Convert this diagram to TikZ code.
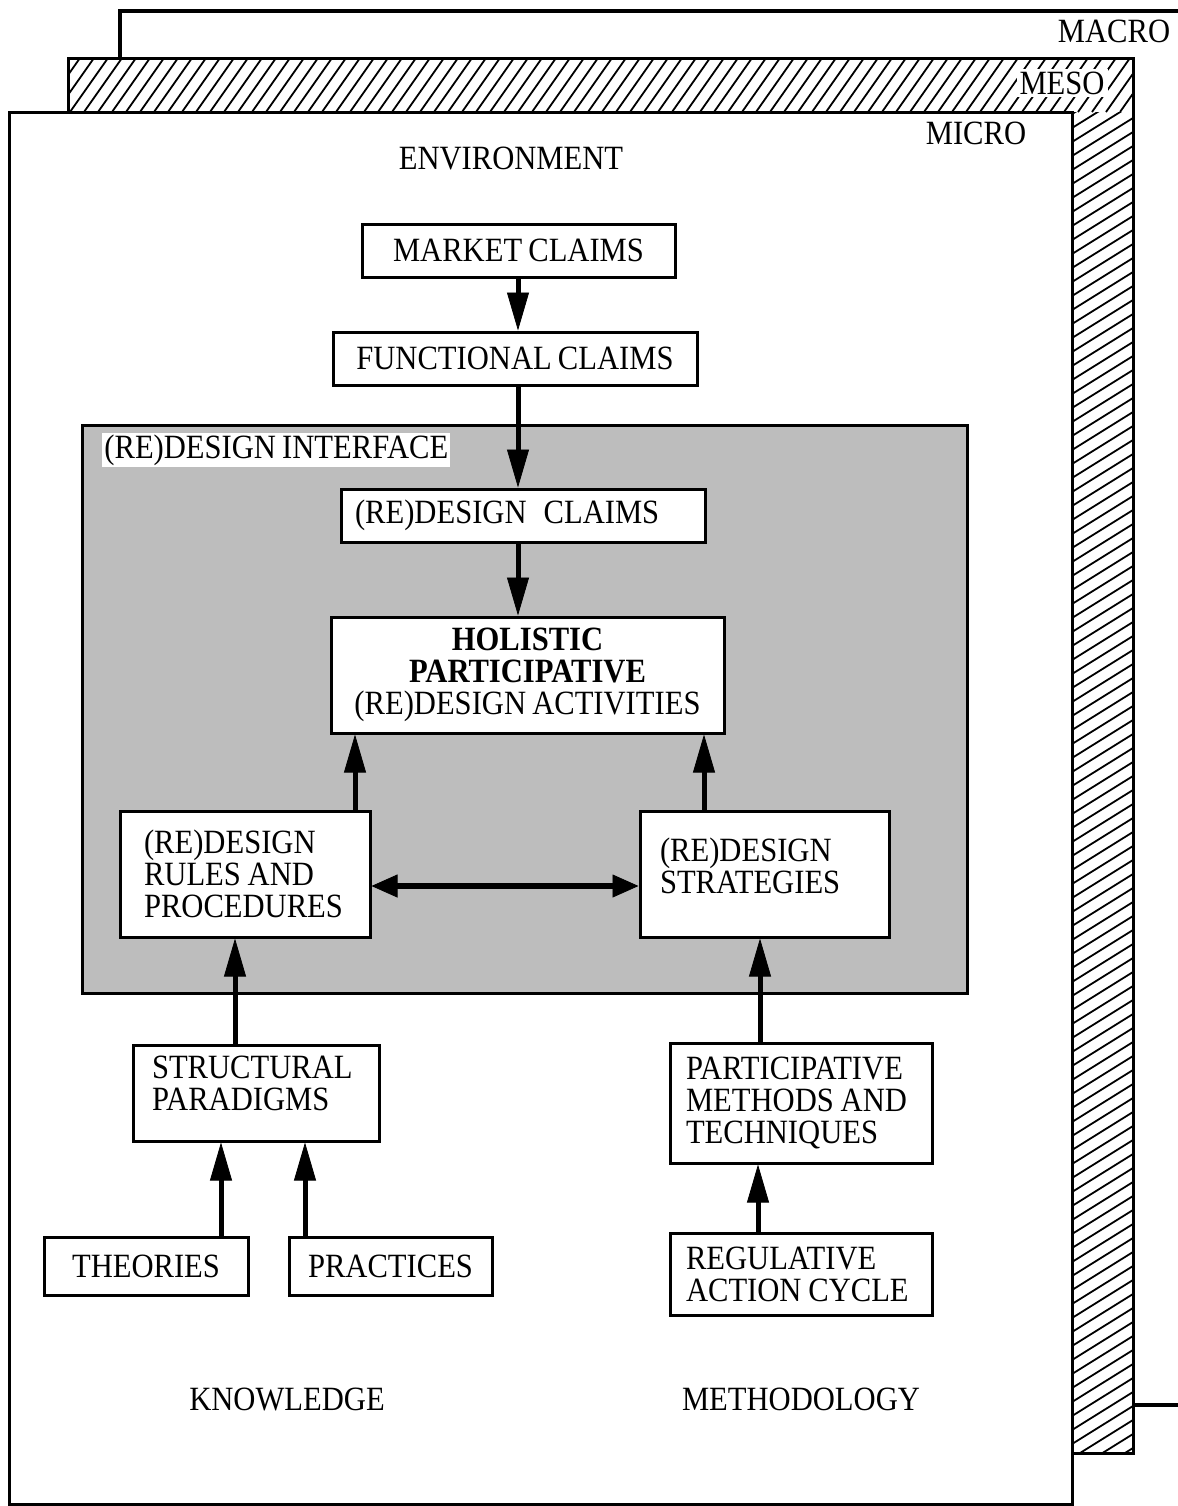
\documentclass[tikz,border=0pt]{standalone}
\usepackage{fontspec}
\setmainfont{Liberation Serif}[FakeStretch=0.9, WordSpace=0.8]
\usetikzlibrary{arrows.meta}
\definecolor{screen}{gray}{0.74}
\newcommand{\fs}{\fontsize{17}{16}\selectfont}
% extra depth below the last line, lifts a text block inside its box
\newcommand{\lift}[1]{\rule[-#1]{0pt}{#1}}
\begin{document}
\begin{tikzpicture}[x=0.5pt,y=-0.5pt,
  box/.style={draw, line width=1.5pt, fill=white, inner sep=0pt, font=\fs, align=center},
  lbox/.style={draw, line width=1.5pt, fill=white, inner ysep=0pt, font=\fs, align=left,
    execute at begin node={\spaceskip=0.2em\relax}},
  lab/.style={inner sep=0pt, font=\fs},
  arr/.style={line width=2.5pt, -{Triangle[length=19pt,width=11pt,line width=0.4pt]}},
  darr/.style={line width=2.8pt, {Triangle[length=13pt,width=11.5pt,line width=0.4pt]}-{Triangle[length=13pt,width=11.5pt,line width=0.4pt]}}
]
\useasboundingbox (0,0) rectangle (1178,1506);

% macro level frame (runs off to the right)
\draw[line width=2pt, fill=white] (120,11) rectangle (1200,1405);

% meso level frame with hatching
\draw[line width=1.5pt, fill=white] (68,58) rectangle (1133,1453);
\begin{scope}
  \clip (68,58) rectangle (1133,112);
  \foreach \x in {0,14,...,1200} \draw[line width=0.9pt] (\x,112) -- ({\x+38},58);
\end{scope}
\begin{scope}
  \clip (1072,112) rectangle (1133,1453);
  \foreach \y in {100,114,...,1500} \draw[line width=0.9pt] (1072,\y) -- (1133,{\y-38});
\end{scope}
\draw[line width=1.5pt] (68,58) rectangle (1133,1453);

% micro level frame
\draw[line width=1.5pt, fill=white] (9,112) rectangle (1072,1504);

% level labels
\node[lab] (macro) at (1114,31) {MACRO};
\node[lab, fill=white, inner sep=1.5pt] (meso) at (1062,83) {MESO};
\node[lab] (micro) at (976,133) {MICRO};
\node[lab] (env) at (511,158) {ENVIRONMENT};
\node[lab] (know) at (287,1399) {KNOWLEDGE};
\node[lab] (meth) at (801,1399) {METHODOLOGY};

% (re)design interface
\draw[line width=1.5pt, fill=screen] (82,425) rectangle (967,993);
\node[lab, fill=white, anchor=west, inner xsep=1pt, minimum height=17pt] (iface) at (102,450) {(RE)DESIGN INTERFACE};

% boxes
\node[box, minimum width=156.5pt, minimum height=26.5pt] (market) at (518.5,250.5) {MARKET CLAIMS};
\node[box, minimum width=182pt, minimum height=26.5pt] (functional) at (515,358.5) {FUNCTIONAL CLAIMS};
\node[lbox, text width=168pt, inner xsep=7pt, minimum height=26.5pt] (rdclaims) at (523,515.5) {(RE)DESIGN\hspace{0.5em}CLAIMS};
\node[box, minimum width=196.5pt, minimum height=58pt] (holistic) at (527.5,675) {\textbf{HOLISTIC}\\\textbf{PARTICIPATIVE}\\(RE)DESIGN ACTIVITIES};
\node[lbox, text width=101pt, inner xsep=12pt, minimum height=63pt] (rules) at (245,874) {(RE)DESIGN\\RULES AND\\PROCEDURES};
\node[lbox, text width=104.5pt, inner xsep=10pt, minimum height=63pt] (strategies) at (764.5,874) {(RE)DESIGN\\STRATEGIES\lift{8pt}};
\node[lbox, text width=104pt, inner xsep=9.5pt, minimum height=48pt] (structural) at (256,1093) {STRUCTURAL\\PARADIGMS\lift{10pt}};
\node[lbox, text width=115pt, inner xsep=8pt, minimum height=60pt] (participative) at (801,1103) {PARTICIPATIVE\\METHODS AND\\TECHNIQUES};
\node[box, minimum width=102pt, minimum height=29pt] (theories) at (146,1266) {THEORIES};
\node[box, minimum width=101.5pt, minimum height=29pt] (practices) at (390.5,1266) {PRACTICES};
\node[lbox, text width=115pt, inner xsep=8pt, minimum height=41pt] (regulative) at (801,1274) {REGULATIVE\\ACTION CYCLE};

% connectors
\draw[arr] (market.south -| 518,0) -- (functional.north -| 518,0);
\draw[arr] (functional.south -| 518,0) -- (rdclaims.north -| 518,0);
\draw[arr] (rdclaims.south -| 518,0) -- (holistic.north -| 518,0);
\draw[arr] (rules.north -| 355,0) -- (holistic.south -| 355,0);
\draw[arr] (strategies.north -| 704,0) -- (holistic.south -| 704,0);
\draw[darr] (rules.east |- 0,886) -- (strategies.west |- 0,886);
\draw[arr] (structural.north -| 235,0) -- (rules.south -| 235,0);
\draw[arr] (participative.north -| 760,0) -- (strategies.south -| 760,0);
\draw[arr] (theories.north -| 221,0) -- (structural.south -| 221,0);
\draw[arr] (practices.north -| 305,0) -- (structural.south -| 305,0);
\draw[arr] (regulative.north -| 758,0) -- (participative.south -| 758,0);
\end{tikzpicture}
\end{document}
